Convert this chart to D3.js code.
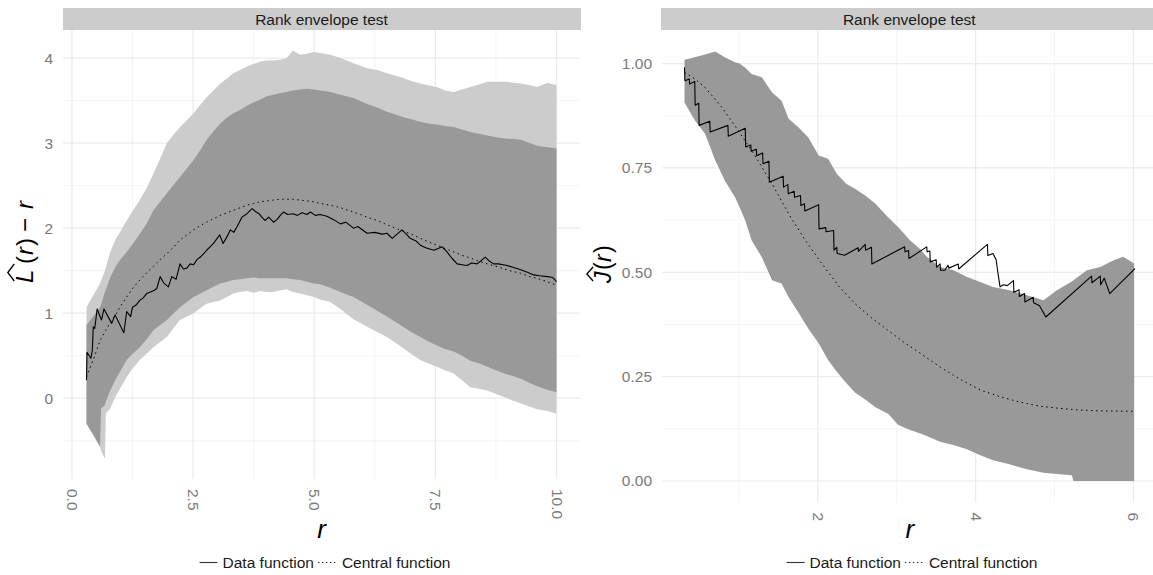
<!DOCTYPE html>
<html>
<head>
<meta charset="utf-8">
<script src="https://cdn.jsdelivr.net/npm/d3@7"></script>
<style>
  body { margin: 0; background: #fff; }
  text { font-family: "Liberation Sans", Arial, sans-serif; }
</style>
</head>
<body>
<svg id="chart" width="1153" height="575"></svg>
<script>
/* left panel: L(r) - r, envelopes read on a shared r grid */
const leftR = [0.30, 0.45, 0.58, 0.60, 0.68, 0.70, 0.79, 0.90, 1.00, 1.13, 1.25, 1.40, 1.55, 1.68, 1.82, 1.96,
  2.10, 2.23, 2.37, 2.51, 2.65, 2.78, 2.92, 3.06, 3.20, 3.33, 3.47, 3.61, 3.75, 3.88, 4.02, 4.16, 4.30, 4.43,
  4.56, 4.71, 4.85, 4.99, 5.12, 5.33, 5.54, 5.81, 6.09, 6.30, 6.50, 6.81, 7.00, 7.19, 7.35, 7.53, 7.70, 7.88,
  8.05, 8.22, 8.40, 8.57, 8.75, 8.98, 9.10, 9.26, 9.45, 9.60, 9.81, 10.0];
const leftOuterHi = [1.07, 1.22, 1.35, 1.38, 1.50, 1.54, 1.72, 1.87, 1.96, 2.09, 2.20, 2.33, 2.48, 2.64, 2.82, 3.00,
  3.10, 3.19, 3.27, 3.35, 3.45, 3.54, 3.62, 3.70, 3.76, 3.82, 3.86, 3.90, 3.93, 3.96, 3.97, 3.97, 3.98, 4.00,
  4.09, 4.04, 4.05, 4.07, 4.06, 4.04, 4.00, 3.94, 3.88, 3.86, 3.82, 3.77, 3.73, 3.70, 3.68, 3.66, 3.62, 3.60,
  3.63, 3.66, 3.69, 3.72, 3.72, 3.72, 3.71, 3.70, 3.68, 3.66, 3.71, 3.68];
const leftInnerHi = [0.86, 0.97, 1.07, 1.10, 1.25, 1.28, 1.42, 1.55, 1.63, 1.72, 1.81, 1.93, 2.06, 2.21, 2.31, 2.41,
  2.51, 2.60, 2.70, 2.80, 2.92, 3.04, 3.14, 3.23, 3.30, 3.35, 3.39, 3.44, 3.48, 3.51, 3.55, 3.57, 3.59, 3.60,
  3.62, 3.63, 3.64, 3.63, 3.62, 3.60, 3.57, 3.53, 3.46, 3.42, 3.37, 3.31, 3.28, 3.25, 3.23, 3.22, 3.20, 3.19,
  3.16, 3.13, 3.11, 3.09, 3.07, 3.05, 3.05, 3.04, 3.00, 2.97, 2.95, 2.94];
const leftInnerLo = [-0.30, -0.44, -0.57, -0.12, -0.08, -0.04, 0.09, 0.22, 0.32, 0.45, 0.52, 0.60, 0.70, 0.80, 0.86, 0.92,
  1.00, 1.07, 1.13, 1.19, 1.23, 1.27, 1.31, 1.35, 1.37, 1.39, 1.40, 1.41, 1.42, 1.41, 1.41, 1.41, 1.41, 1.41,
  1.40, 1.39, 1.37, 1.35, 1.34, 1.30, 1.25, 1.19, 1.10, 1.03, 0.96, 0.85, 0.78, 0.72, 0.67, 0.62, 0.58, 0.55,
  0.50, 0.44, 0.41, 0.37, 0.33, 0.28, 0.26, 0.23, 0.18, 0.14, 0.10, 0.07];
const leftOuterLo = [-0.30, -0.44, -0.57, -0.62, -0.71, -0.18, -0.12, 0.02, 0.12, 0.25, 0.35, 0.45, 0.53, 0.60, 0.66, 0.72,
  0.83, 0.92, 0.96, 1.00, 1.06, 1.11, 1.13, 1.15, 1.19, 1.23, 1.25, 1.26, 1.24, 1.26, 1.25, 1.25, 1.27, 1.28,
  1.25, 1.23, 1.21, 1.19, 1.16, 1.13, 1.05, 0.93, 0.84, 0.78, 0.72, 0.60, 0.52, 0.45, 0.41, 0.37, 0.33, 0.29,
  0.21, 0.13, 0.11, 0.09, 0.05, 0.00, -0.03, -0.06, -0.10, -0.13, -0.15, -0.18];
const leftCentral = [0.25, 0.47, 0.68, 0.70, 0.78, 0.80, 0.89, 0.98, 1.08, 1.19, 1.29, 1.39, 1.48, 1.55, 1.63, 1.70,
  1.78, 1.86, 1.92, 1.98, 2.03, 2.07, 2.11, 2.15, 2.18, 2.21, 2.24, 2.27, 2.29, 2.31, 2.32, 2.33, 2.34, 2.34,
  2.34, 2.33, 2.32, 2.31, 2.29, 2.27, 2.24, 2.19, 2.13, 2.09, 2.04, 1.97, 1.93, 1.88, 1.84, 1.80, 1.76, 1.72,
  1.68, 1.65, 1.61, 1.58, 1.55, 1.51, 1.49, 1.47, 1.43, 1.41, 1.37, 1.33];
const leftDataR = [0.30, 0.31, 0.39, 0.42, 0.44, 0.47, 0.52, 0.61, 0.66, 0.82, 0.89, 1.07, 1.13, 1.21, 1.25, 1.33,
  1.40, 1.47, 1.54, 1.62, 1.70, 1.75, 1.82, 1.90, 1.99, 2.06, 2.15, 2.23, 2.30, 2.37, 2.44, 2.51, 2.58, 2.65,
  2.72, 2.78, 2.85, 2.92, 3.05, 3.12, 3.20, 3.27, 3.34, 3.41, 3.51, 3.61, 3.72, 3.80, 3.86, 3.93, 3.99, 4.06,
  4.16, 4.23, 4.30, 4.37, 4.45, 4.57, 4.65, 4.75, 4.85, 4.92, 5.02, 5.12, 5.26, 5.40, 5.54, 5.65, 5.81, 5.90,
  6.09, 6.25, 6.40, 6.50, 6.61, 6.81, 6.90, 6.98, 7.10, 7.19, 7.30, 7.47, 7.64, 7.74, 7.85, 7.95, 8.05, 8.15,
  8.25, 8.36, 8.45, 8.53, 8.62, 8.70, 8.80, 8.98, 9.10, 9.26, 9.40, 9.53, 9.65, 9.81, 9.92, 10.0];
const leftDataV = [0.21, 0.54, 0.47, 0.56, 0.84, 0.82, 1.05, 0.92, 1.05, 0.88, 0.98, 0.77, 1.02, 0.96, 1.07, 1.10,
  1.15, 1.18, 1.23, 1.25, 1.27, 1.29, 1.43, 1.35, 1.31, 1.43, 1.40, 1.58, 1.52, 1.53, 1.58, 1.57, 1.63, 1.66,
  1.70, 1.74, 1.78, 1.82, 1.92, 1.82, 1.90, 1.98, 1.95, 2.02, 2.13, 2.17, 2.23, 2.19, 2.17, 2.12, 2.09, 2.13,
  2.07, 2.10, 2.15, 2.19, 2.16, 2.17, 2.15, 2.18, 2.16, 2.19, 2.15, 2.16, 2.14, 2.10, 2.05, 2.07, 2.00, 2.02,
  1.94, 1.95, 1.93, 1.94, 1.88, 1.98, 1.93, 1.88, 1.85, 1.80, 1.77, 1.74, 1.78, 1.72, 1.64, 1.58, 1.57, 1.56,
  1.59, 1.58, 1.62, 1.66, 1.61, 1.58, 1.58, 1.56, 1.54, 1.51, 1.48, 1.45, 1.44, 1.43, 1.42, 1.37];
const leftXTicks = [0, 2.5, 5, 7.5, 10];
const leftXMinor = [1.25, 3.75, 6.25, 8.75];
const leftYTicks = [0, 1, 2, 3, 4];
const leftYMinor = [-0.5, 0.5, 1.5, 2.5, 3.5];

/* right panel: J(r) */
const rightEnvR = [0.31, 0.44, 0.57, 0.70, 0.82, 0.95, 1.01, 1.08, 1.16, 1.29, 1.42, 1.54, 1.63, 1.75, 1.88, 2.01,
  2.13, 2.24, 2.36, 2.47, 2.60, 2.73, 2.89, 3.02, 3.17, 3.30, 3.38, 3.55, 3.72, 3.89, 4.06, 4.22, 4.43, 4.65,
  4.86, 5.03, 5.22, 5.24, 5.41, 5.58, 5.75, 5.87, 6.01];
const rightHi = [1.009, 1.015, 1.022, 1.029, 1.015, 1.003, 1.000, 0.990, 0.975, 0.967, 0.931, 0.911, 0.868, 0.848,
  0.823, 0.780, 0.772, 0.736, 0.712, 0.700, 0.684, 0.664, 0.632, 0.608, 0.576, 0.555, 0.537, 0.513, 0.505, 0.489,
  0.477, 0.465, 0.457, 0.445, 0.433, 0.457, 0.478, 0.481, 0.505, 0.513, 0.529, 0.537, 0.521];
const rightLo = [0.907, 0.864, 0.832, 0.768, 0.720, 0.680, 0.655, 0.624, 0.577, 0.536, 0.481, 0.473, 0.440, 0.405,
  0.365, 0.330, 0.290, 0.262, 0.235, 0.212, 0.195, 0.177, 0.161, 0.134, 0.122, 0.114, 0.108, 0.094, 0.086, 0.076,
  0.062, 0.050, 0.040, 0.028, 0.020, 0.017, 0.014, 0.000, 0.000, 0.000, 0.000, 0.000, 0.000];
const rightDataR = [0.31, 0.315, 0.37, 0.375, 0.44, 0.445, 0.49, 0.495, 0.63, 0.635, 0.86, 0.865, 1.08, 1.085, 1.15,
  1.155, 1.22, 1.225, 1.30, 1.305, 1.38, 1.385, 1.56, 1.565, 1.62, 1.625, 1.70, 1.705, 1.78, 1.785, 1.83, 1.835,
  2.01, 2.015, 2.10, 2.105, 2.20, 2.205, 2.24, 2.245, 2.34, 2.51, 2.515, 2.60, 2.605, 2.68, 2.685, 3.10, 3.105,
  3.15, 3.155, 3.38, 3.385, 3.42, 3.425, 3.50, 3.505, 3.55, 3.555, 3.61, 3.65, 3.66, 3.78, 3.785, 4.15, 4.155,
  4.22, 4.26, 4.29, 4.31, 4.35, 4.40, 4.48, 4.485, 4.55, 4.555, 4.62, 4.625, 4.73, 4.735, 4.81, 4.89, 5.47,
  5.475, 5.58, 5.585, 5.63, 5.70, 6.02];
const rightDataV = [0.991, 0.959, 0.963, 0.951, 0.957, 0.900, 0.905, 0.852, 0.862, 0.836, 0.852, 0.826, 0.845,
  0.800, 0.805, 0.790, 0.795, 0.779, 0.786, 0.760, 0.766, 0.716, 0.730, 0.704, 0.710, 0.688, 0.694, 0.680, 0.684,
  0.660, 0.664, 0.647, 0.662, 0.604, 0.607, 0.597, 0.600, 0.553, 0.560, 0.545, 0.541, 0.559, 0.550, 0.567, 0.553,
  0.560, 0.520, 0.561, 0.549, 0.552, 0.533, 0.561, 0.549, 0.551, 0.525, 0.530, 0.512, 0.520, 0.505, 0.505, 0.517,
  0.510, 0.520, 0.508, 0.567, 0.540, 0.545, 0.530, 0.489, 0.465, 0.470, 0.468, 0.480, 0.452, 0.458, 0.442, 0.449,
  0.429, 0.440, 0.427, 0.420, 0.393, 0.491, 0.475, 0.491, 0.470, 0.486, 0.449, 0.509];
const rightCentR = [0.31, 0.45, 0.57, 0.78, 0.99, 1.20, 1.42, 1.63, 1.84, 2.05, 2.26, 2.47, 2.68, 2.89, 3.10, 3.30,
  3.55, 3.80, 4.06, 4.31, 4.56, 4.82, 5.07, 5.32, 5.58, 6.01];
const rightCentV = [0.979, 0.962, 0.943, 0.896, 0.840, 0.780, 0.712, 0.640, 0.577, 0.521, 0.468, 0.425, 0.391,
  0.361, 0.331, 0.306, 0.273, 0.244, 0.218, 0.202, 0.189, 0.179, 0.174, 0.170, 0.168, 0.167];
const rightXTicks = [2, 4, 6];
const rightXMinor = [1, 3, 5];
const rightYTicks = [0, 0.25, 0.5, 0.75, 1];
const rightYMinor = [0.125, 0.375, 0.625, 0.875];

const stripTitle = 'Rank envelope test';
const legendLabels = ['Data function', 'Central function'];

const svg = d3.select('#chart');
svg.append('rect').attr('width', 1153).attr('height', 575).attr('fill', '#fff');

const expand = ([a, b]) => [a - (b - a) * 0.05, b + (b - a) * 0.05];

const drawPanel = (o) => {
  const x = d3.scaleLinear().domain(expand(o.xExtent)).range([o.left, o.right]);
  const y = d3.scaleLinear().domain(expand(o.yExtent)).range([o.bottom, o.top]);
  const g = svg.append('g');

  /* strip */
  g.append('rect')
    .attr('x', o.stripLeft).attr('y', 8)
    .attr('width', o.right - o.stripLeft + 1).attr('height', 22)
    .attr('fill', '#cccccc');
  g.append('text')
    .attr('x', (o.stripLeft + o.right) / 2).attr('y', 24.5)
    .attr('text-anchor', 'middle')
    .attr('font-size', 15.5).attr('fill', '#1a1a1a')
    .text(stripTitle);

  /* grid */
  const grid = g.append('g');
  o.yMinor.forEach((v) => grid.append('line')
    .attr('x1', o.left).attr('x2', o.right).attr('y1', y(v)).attr('y2', y(v))
    .attr('stroke', '#f3f3f3').attr('stroke-width', 0.8));
  o.xMinor.forEach((v) => grid.append('line')
    .attr('y1', o.top).attr('y2', o.bottom).attr('x1', x(v)).attr('x2', x(v))
    .attr('stroke', '#f3f3f3').attr('stroke-width', 0.8));
  o.yTicks.forEach((v) => grid.append('line')
    .attr('x1', o.left).attr('x2', o.right).attr('y1', y(v)).attr('y2', y(v))
    .attr('stroke', '#ebebeb').attr('stroke-width', 1.2));
  o.xTicks.forEach((v) => grid.append('line')
    .attr('y1', o.top).attr('y2', o.bottom).attr('x1', x(v)).attr('x2', x(v))
    .attr('stroke', '#ebebeb').attr('stroke-width', 1.2));

  /* envelopes */
  o.bands.forEach((b) => {
    const rows = b.r.map((r, i) => ({ r, lo: b.lo[i], hi: b.hi[i] }));
    g.append('path')
      .datum(rows)
      .attr('fill', b.fill)
      .attr('d', d3.area().x((d) => x(d.r)).y0((d) => y(d.lo)).y1((d) => y(d.hi)));
  });

  /* central function */
  g.append('path')
    .datum(o.centR.map((r, i) => [r, o.centV[i]]))
    .attr('fill', 'none').attr('stroke', '#000').attr('stroke-width', 1)
    .attr('stroke-dasharray', '1.5,3.5')
    .attr('d', d3.line().x((d) => x(d[0])).y((d) => y(d[1])));

  /* data function */
  g.append('path')
    .datum(o.dataR.map((r, i) => [r, o.dataV[i]]))
    .attr('fill', 'none').attr('stroke', '#000').attr('stroke-width', 1.1)
    .attr('stroke-linejoin', 'round')
    .attr('d', d3.line().x((d) => x(d[0])).y((d) => y(d[1])));

  /* axes */
  const yAxis = g.append('g')
    .attr('transform', `translate(${o.left - 10},0)`)
    .call(d3.axisLeft(y).tickValues(o.yTicks).tickFormat(o.yFormat).tickSize(0).tickPadding(0));
  yAxis.select('.domain').remove();
  yAxis.selectAll('text')
    .attr('font-size', 15.5).attr('fill', '#7a7a7a')
    .attr('font-family', '"Liberation Sans", Arial, sans-serif');

  const xAxis = g.append('g')
    .attr('transform', `translate(0,${o.bottom + 9})`)
    .call(d3.axisBottom(x).tickValues(o.xTicks).tickFormat(o.xFormat).tickSize(0).tickPadding(0));
  xAxis.select('.domain').remove();
  xAxis.selectAll('text')
    .attr('font-size', 15.5).attr('fill', '#7a7a7a')
    .attr('font-family', '"Liberation Sans", Arial, sans-serif')
    .attr('transform', 'rotate(90)')
    .attr('text-anchor', 'start')
    .attr('x', 1).attr('y', 0).attr('dy', '0.35em');

  /* x title */
  g.append('text')
    .attr('x', (o.left + o.right) / 2).attr('y', 538)
    .attr('text-anchor', 'middle').attr('font-size', 26)
    .attr('font-style', 'italic').text('r');

  /* legend */
  const leg = g.append('g');
  const t1 = leg.append('text').attr('y', 568).attr('font-size', 15.5).attr('fill', '#1a1a1a').text(legendLabels[0]);
  const t2 = leg.append('text').attr('y', 568).attr('font-size', 15.5).attr('fill', '#1a1a1a').text(legendLabels[1]);
  const w1 = t1.node().getComputedTextLength();
  const w2 = t2.node().getComputedTextLength();
  const total = 18 + 5 + w1 + 4 + 20 + 4 + w2;
  let lx = o.legendCenter - total / 2;
  leg.append('line').attr('x1', lx).attr('x2', lx + 18).attr('y1', 562.5).attr('y2', 562.5)
    .attr('stroke', '#333').attr('stroke-width', 1.1);
  lx += 23;
  t1.attr('x', lx);
  lx += w1 + 4;
  leg.append('line').attr('x1', lx).attr('x2', lx + 20).attr('y1', 562.5).attr('y2', 562.5)
    .attr('stroke', '#333').attr('stroke-width', 1.1).attr('stroke-dasharray', '1.5,2.5');
  lx += 24;
  t2.attr('x', lx);

  return g;
};

/* left */
drawPanel({
  left: 63, right: 580, top: 30, bottom: 479, stripLeft: 63,
  xExtent: d3.extent(leftR), yExtent: [d3.min(leftOuterLo), d3.max(leftOuterHi)],
  xTicks: leftXTicks, xMinor: leftXMinor, yTicks: leftYTicks, yMinor: leftYMinor,
  xFormat: d3.format('.1f'), yFormat: d3.format('d'),
  bands: [
    { r: leftR, lo: leftOuterLo, hi: leftOuterHi, fill: '#cccccc' },
    { r: leftR, lo: leftInnerLo, hi: leftInnerHi, fill: '#999999' }
  ],
  centR: leftR, centV: leftCentral, dataR: leftDataR, dataV: leftDataV,
  legendCenter: 325
});

/* right */
drawPanel({
  left: 662, right: 1157.5, top: 30, bottom: 502.5, stripLeft: 661,
  xExtent: [d3.min(rightEnvR), d3.max(rightDataR)], yExtent: [d3.min(rightLo), d3.max(rightHi)],
  xTicks: rightXTicks, xMinor: rightXMinor, yTicks: rightYTicks, yMinor: rightYMinor,
  xFormat: d3.format('d'), yFormat: d3.format('.2f'),
  bands: [{ r: rightEnvR, lo: rightLo, hi: rightHi, fill: '#999999' }],
  centR: rightCentR, centV: rightCentV, dataR: rightDataR, dataV: rightDataV,
  legendCenter: 912
});

/* y titles: glyphs placed along the rotated baseline, with a hat over the first letter */
const yTitle = (x0, y0, size, parts, hatW) => {
  const t = svg.append('g').attr('transform', `translate(${x0},${y0}) rotate(-90)`);
  parts.forEach((p) => t.append('text')
    .attr('x', p.x).attr('font-size', size)
    .attr('font-style', p.i ? 'italic' : 'normal')
    .text(p.s));
  t.append('path')
    .attr('d', `M 2 ${-size * 0.78} L ${hatW / 2 + 2} ${-size * 1.05} L ${hatW + 2} ${-size * 0.78}`)
    .attr('fill', 'none').attr('stroke', '#000').attr('stroke-width', 1.3);
};
yTitle(33, 283, 24, [
  { s: 'L', i: true, x: 0 }, { s: '(', x: 19 }, { s: 'r', i: true, x: 28 }, { s: ')', x: 37 },
  { s: '\u2212', x: 51 }, { s: 'r', i: true, x: 74 }
], 17);
yTitle(611, 283, 23, [
  { s: 'J', i: true, x: 0 }, { s: '(', x: 13 }, { s: 'r', i: true, x: 21 }, { s: ')', x: 30 }
], 14);
</script>
</body>
</html>
